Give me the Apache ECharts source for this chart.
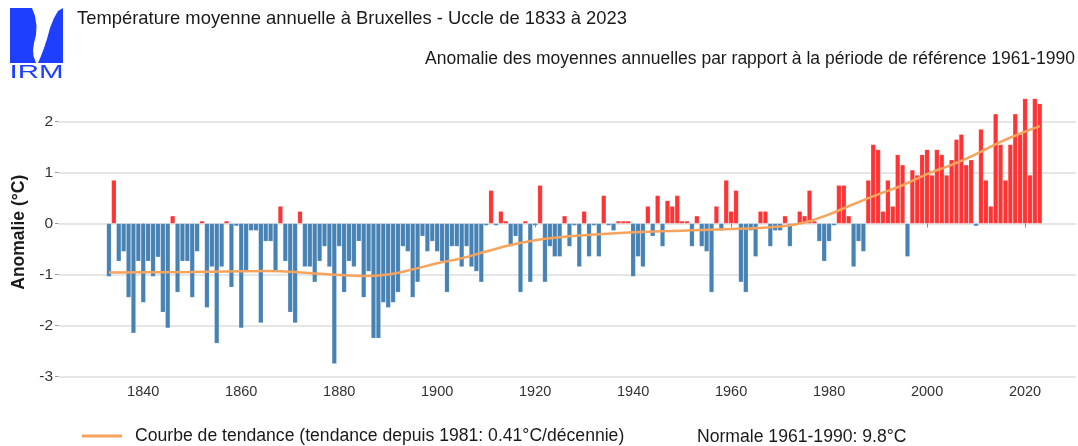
<!DOCTYPE html>
<html>
<head>
<meta charset="utf-8">
<script src="https://cdn.jsdelivr.net/npm/echarts@6/dist/echarts.min.js"></script>
<style>
html, body { margin: 0; padding: 0; background: #fff; }
#chart { width: 1078px; height: 446px; }
</style>
</head>
<body>
<div id="chart"></div>
<script>
/*années et anomalies*/
var firstYear = 1833;
var anomalies = [
    -1.04, 0.85, -0.74, -0.55, -1.45, -2.15, -0.74,                 /*1833-1839*/
    -1.55, -0.74, -1.04, -0.66, -1.74, -2.05, 0.15, -1.35, -0.74, -0.74, /*1840-1849*/
    -1.45, -0.55, 0.05, -1.65, -0.85, -2.35, -0.85, 0.05, -1.25, -0.05,  /*1850-1859*/
    -2.05, -0.94, -0.14, -0.14, -1.95, -0.35, -0.35, -0.94, 0.34, -0.74, /*1860-1869*/
    -1.74, -1.95, 0.24, -0.85, -0.85, -1.15, -0.74, -0.45, -0.85, -2.75, /*1870-1879*/
    -0.45, -1.35, -0.74, -0.85, -0.35, -1.45, -0.94, -2.25, -2.25, -1.55, /*1880-1889*/
    -1.65, -1.55, -1.35, -0.45, -0.55, -1.45, -1.15, -0.25, -0.55, -0.35, /*1890-1899*/
    -0.55, -0.74, -1.35, -0.45, -0.45, -0.85, -0.45, -0.85, -0.94, -1.15, /*1900-1909*/
    -0.04, 0.65, -0.04, 0.24, 0.05, -0.45, -0.25, -1.35, 0.05, -1.15,    /*1910-1919*/
    -0.04, 0.75, -1.15, -0.45, -0.65, -0.65, 0.15, -0.45, -0.04, -0.85,  /*1920-1929*/
    0.24, -0.65, -0.04, -0.65, 0.55, -0.04, -0.14, 0.05, 0.05, 0.05,     /*1930-1939*/
    -1.04, -0.65, -0.85, 0.34, -0.25, 0.55, -0.45, 0.45, 0.34, 0.55,     /*1940-1949*/
    0.05, 0.05, -0.45, 0.15, -0.45, -0.55, -1.35, 0.34, -0.14, 0.85,     /*1950-1959*/
    0.24, 0.65, -1.15, -1.35, -0.14, -0.65, 0.24, 0.24, -0.45, -0.14,    /*1960-1969*/
    -0.14, 0.15, -0.45, -0.04, 0.24, 0.15, 0.65, 0.05, -0.35, -0.74,     /*1970-1979*/
    -0.35, -0.04, 0.75, 0.75, 0.15, -0.85, -0.35, -0.55, 0.85, 1.55,     /*1980-1989*/
    1.45, 0.24, 0.85, 0.34, 1.35, 1.15, -0.65, 1.05, 0.95, 1.35,         /*1990-1999*/
    1.45, 0.95, 1.45, 1.35, 0.95, 1.25, 1.65, 1.75, 1.15, 1.25,          /*2000-2009*/
    -0.05, 1.85, 0.85, 0.34, 2.15, 1.55, 0.85, 1.55, 2.15, 1.75,         /*2010-2019*/
    2.45, 0.95, 2.45, 2.35                                               /*2020-2023*/
];
var trendYears = [1833, 1850, 1865, 1875, 1885, 1890, 1895, 1900, 1905, 1910, 1915, 1920, 1925, 1930, 1940, 1950, 1960, 1970, 1975, 1980, 1985, 1990, 1995, 2000, 2005, 2010, 2015, 2020, 2023];
var trendValues = [-0.96, -0.95, -0.93, -0.98, -1.03, -1.0, -0.9, -0.78, -0.68, -0.55, -0.42, -0.33, -0.27, -0.23, -0.17, -0.14, -0.11, -0.06, 0.02, 0.18, 0.38, 0.57, 0.75, 0.97, 1.15, 1.36, 1.6, 1.8, 1.91];
var xTicks = [1840, 1860, 1880, 1900, 1920, 1940, 1960, 1980, 2000, 2020];
var yTicks = [-3, -2, -1, 0, 1, 2];

var barData = [];
for (var i = 0; i < anomalies.length; i++) {
    barData.push([firstYear + i, anomalies[i]]);
}
var trendData = [];
for (var j = 0; j < trendYears.length; j++) {
    trendData.push([trendYears[j], trendValues[j]]);
}

var fontName = 'Liberation Sans, Arial, sans-serif';
var irmBlue = '#1f3fff';

var myChart = echarts.init(document.getElementById('chart'));
var option = {
    backgroundColor: '#fff',
    animation: false,
    textStyle: { fontFamily: fontName },
    title: [
        {
            text: 'Température moyenne annuelle à Bruxelles - Uccle de 1833 à 2023',
            left: 77, top: 10, padding: 0,
            textStyle: { fontSize: 18.4, fontWeight: 'normal', color: '#1a1a1a' }
        },
        {
            text: 'Anomalie des moyennes annuelles par rapport à la période de référence 1961-1990',
            right: 3, top: 50, padding: 0,
            textStyle: { fontSize: 17.5, fontWeight: 'normal', color: '#1a1a1a' }
        }
    ],
    legend: {
        left: 82, top: 427, padding: 0,
        icon: 'rect',
        itemWidth: 40, itemHeight: 3,
        data: ['Courbe de tendance (tendance depuis 1981: 0.41°C/décennie)'],
        textStyle: { fontSize: 17.6, color: '#1a1a1a', padding: [0, 0, 0, 8] }
    },
    grid: { left: 58.5, right: 2, top: 96, bottom: 69.5 },
    xAxis: {
        type: 'value',
        min: 1822.7, max: 2030.4,
        axisLine: { show: false },
        splitLine: { show: false },
        axisTick: { show: true, customValues: xTicks, length: 4, lineStyle: { color: '#888' } },
        axisLabel: {
            customValues: xTicks, fontSize: 14.5, color: '#333', margin: 8,
            formatter: function (v) { return String(v); }
        }
    },
    yAxis: {
        type: 'value',
        min: -3, max: 2.5,
        name: 'Anomalie (°C)',
        nameLocation: 'middle',
        nameGap: 28,
        nameTextStyle: { fontSize: 17.5, fontWeight: 'bold', color: '#1a1a1a', padding: [0, 0, 0, 8] },
        axisLine: { show: false },
        axisTick: { show: true, customValues: yTicks, length: 3.5, lineStyle: { color: '#999' } },
        axisLabel: { customValues: yTicks, fontSize: 15.5, color: '#333', margin: 5.5 },
        splitLine: { show: true, lineStyle: { color: '#dedede', width: 1.5 } }
    },
    graphic: [
        /*logo IRM*/
        { type: 'polygon', shape: { points: [[10, 8], [32, 8], [35, 16], [36.5, 26], [36, 35], [34, 43], [33, 50], [33.5, 56], [36, 63], [10, 63]] }, style: { fill: irmBlue } },
        { type: 'polygon', shape: { points: [[63, 8], [63, 63], [38, 63], [41, 56], [44, 48], [47, 39], [50, 28], [54, 18], [58, 11]] }, style: { fill: irmBlue } },
        { type: 'text', x: 9.5, y: 63.5, scaleX: 1.55, style: { text: 'IRM', fontSize: 19, fill: irmBlue, fontFamily: fontName, verticalAlign: 'top' } },
        { type: 'text', left: 697, top: 428, style: { text: 'Normale 1961-1990: 9.8°C', fontSize: 17.6, fill: '#1a1a1a', fontFamily: fontName } }
    ],
    series: [
        {
            name: 'Anomalie',
            type: 'bar',
            data: barData,
            barWidth: 4.8,
            itemStyle: {
                color: function (p) { return p.value[1] >= 0 ? '#ff3333' : '#4682b4'; },
                borderColor: 'rgba(255,255,255,0.3)',
                borderWidth: 0.5
            }
        },
        {
            name: 'Courbe de tendance (tendance depuis 1981: 0.41°C/décennie)',
            type: 'line',
            data: trendData,
            smooth: 0.5,
            symbol: 'none',
            lineStyle: { color: '#f7a35c', width: 2.5 },
            itemStyle: { color: '#f7a35c' },
            z: 5
        }
    ]
};
myChart.setOption(option);
</script>
</body>
</html>
